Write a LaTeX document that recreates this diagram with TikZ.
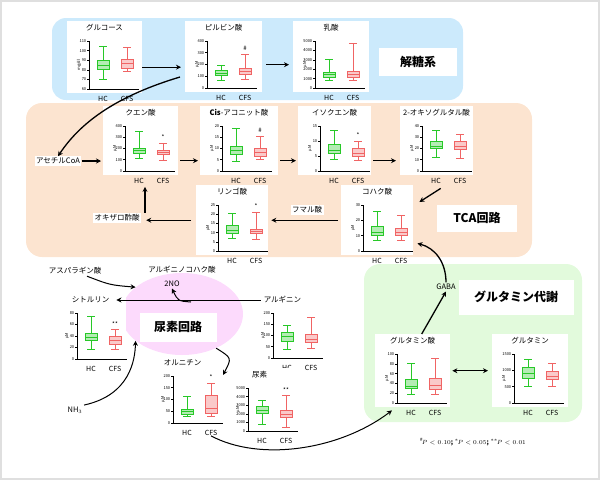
\documentclass[tikz,border=0pt]{standalone}
\usepackage{fontspec}
\setmainfont{Noto Sans CJK JP}
\usetikzlibrary{shapes, arrows.meta, positioning}

\definecolor{hcg}{RGB}{40,200,40}
\definecolor{cfsr}{RGB}{240,100,100}
\definecolor{glyc}{RGB}{204,234,252}
\definecolor{tca}{RGB}{252,228,208}
\definecolor{glnbg}{RGB}{226,250,220}
\definecolor{urbg}{RGB}{252,218,252}

\def\ymn{0}
% panel: x0, y0, x1, y1, ymax, ticks, unit, name, title
\newcommand\panel[9]{%
  \pgfmathsetmacro\pw{#3-#1}\pgfmathsetmacro\ph{#4-#2}
  \node [panel, minimum width=\pw pt, minimum height=\ph pt, anchor=north west] (#8) at (#1,#2) {};
  \node [title] (#8t) at ({(#1+#3)/2},#2+7) {#9};
  \pgfmathsetmacro\ax{#1+22}\pgfmathsetmacro\ab{#4-4}\pgfmathsetmacro\at{#2+20}\def\ym{#5}
  \draw [axis] (\ax,\at) -- (\ax,\ab) -- (\ax+50,\ab);
  \foreach \t in {#6} {\draw [axis] (\ax,{\ab-(\t-\ymn)/(\ym-\ymn)*(\ab-\at)}) -- ++(-2,0) node [tick] {\t};}
  \node [unit] at (#1+12,{(\ab+\at)/2}) {#7};
  \node [grp] (#8hc) at (\ax+14,#4+6) {HC};
  \node [grp] (#8cfs) at (\ax+38,#4+6) {CFS};
}
% box: colour, offset, min, q1, median, q3, max, sign
\newcommand\bx[8]{%
  \pgfmathsetmacro\ya{\ab-(#3-\ymn)/(\ym-\ymn)*(\ab-\at)}
  \pgfmathsetmacro\yb{\ab-(#4-\ymn)/(\ym-\ymn)*(\ab-\at)}
  \pgfmathsetmacro\yc{\ab-(#5-\ymn)/(\ym-\ymn)*(\ab-\at)}
  \pgfmathsetmacro\yd{\ab-(#6-\ymn)/(\ym-\ymn)*(\ab-\at)}
  \pgfmathsetmacro\ye{\ab-(#7-\ymn)/(\ym-\ymn)*(\ab-\at)}
  \draw [#1, fill=#1!35, line width=0.7pt] (\ax+#2-6,\yb) rectangle (\ax+#2+6,\yd);
  \draw [#1, line width=0.7pt] (\ax+#2-6,\yc) -- (\ax+#2+6,\yc)
    (\ax+#2,\ya) -- (\ax+#2,\yb) (\ax+#2,\yd) -- (\ax+#2,\ye)
    (\ax+#2-4,\ya) -- (\ax+#2+4,\ya) (\ax+#2-4,\ye) -- (\ax+#2+4,\ye);
  \node [sig] at (\ax+#2,\ye-6) {#8};
}

\begin{document}
\begin{tikzpicture}
  [x=1pt, y=-1pt,
  % panel
  panel/.style = {rectangle, fill=white, inner sep=0},
  title/.style = {fill=white, inner sep=1pt, font=\fontsize{7.5}{8}\selectfont},
  axis/.style = {line width=0.6pt},
  tick/.style = {anchor=east, inner sep=0.5pt, font=\fontsize{4}{4}\selectfont},
  unit/.style = {rotate=90, font=\fontsize{4}{4}\selectfont},
  grp/.style = {font=\fontsize{7}{7}\selectfont, inner sep=0},
  sig/.style = {font=\fontsize{6}{6}\selectfont, inner sep=0},
  % labels
  txt/.style = {fill=white, inner sep=1.5pt, font=\fontsize{7.5}{8}\selectfont},
  big/.style = {fill=white, font=\bfseries\fontsize{12}{12}\selectfont, inner sep=0},
  % line
  line/.style = {draw, line width=1.3pt, -{Stealth[length=5pt, width=5pt]}},
  ]
  \useasboundingbox (0,0) rectangle (600,480);
  \draw [gray!25, line width=2pt] (1,1) rectangle (599,479);

  % backgrounds
  \fill [glyc, rounded corners=14pt] (52,18) rectangle (463,100);
  \fill [tca, rounded corners=16pt] (26,103) rectangle (532,257);
  \fill [glnbg, rounded corners=16pt] (364,264) rectangle (582,422);
  \node [ellipse, fill=urbg, minimum width=122pt, minimum height=82pt] (ucyc) at (182,314) {};

  % glycolysis
  \def\ymn{60}
  \panel{67}{21}{142}{93}{110}{60,70,...,110}{mg/dl}{gluc}{グルコース}
  \bx{hcg}{14}{70}{80}{85}{90}{104}{}
  \bx{cfsr}{38}{78}{81}{87}{91}{103}{}
  \def\ymn{0}
  \panel{185}{21}{262}{92}{400}{0,100,...,400}{µM}{pyr}{ピルビン酸}
  \bx{hcg}{14}{65}{105}{125}{150}{195}{}
  \bx{cfsr}{38}{75}{115}{140}{165}{290}{\#}
  \panel{293}{21}{369}{92}{5000}{0,1000,...,5000}{µM}{lac}{乳酸}
  \bx{hcg}{14}{800}{1100}{1400}{1650}{3000}{}
  \bx{cfsr}{38}{800}{1150}{1500}{1800}{4700}{}

  % TCA
  \panel{103}{106}{178}{175}{400}{0,100,...,400}{µM}{cit}{クエン酸}
  \bx{hcg}{14}{115}{155}{180}{205}{350}{}
  \bx{cfsr}{38}{95}{145}{165}{185}{245}{*}
  \panel{200}{106}{278}{175}{20}{0,5,...,20}{µM}{cis}{\textbf{\textit{Cis}}-アコニット酸}
  \bx{hcg}{14}{4.5}{7.5}{9}{11}{19}{}
  \bx{cfsr}{38}{5}{6.5}{8.5}{10}{15.5}{\#}
  \panel{298}{106}{371}{175}{15}{0,5,10,15}{µM}{iso}{イソクエン酸}
  \bx{hcg}{14}{4}{6}{7}{9}{13.5}{}
  \bx{cfsr}{38}{3.5}{5}{6}{7.5}{9.8}{*}
  \panel{400}{106}{473}{175}{40}{0,10,...,40}{µM}{oxo}{2-オキソグルタル酸}
  \bx{hcg}{14}{12}{20}{22}{26}{36}{}
  \bx{cfsr}{38}{11}{19}{22}{26}{33}{}
  \panel{196}{185}{268}{255}{25}{0,5,...,25}{µM}{mal}{リンゴ酸}
  \bx{hcg}{14}{7}{9.5}{11}{14}{20.5}{}
  \bx{cfsr}{38}{6.5}{9.5}{10.5}{12}{21}{*}
  \panel{341}{185}{413}{255}{30}{0,10,20,30}{µM}{suc}{コハク酸}
  \bx{hcg}{14}{7}{10}{12}{16}{26}{}
  \bx{cfsr}{38}{7}{10}{12}{15}{23}{}

  % urea cycle
  \panel{55}{293}{126}{363}{80}{0,20,...,80}{µM}{citr}{シトルリン}
  \bx{hcg}{14}{17}{32}{37}{45}{75}{}
  \bx{cfsr}{38}{17}{25}{32}{40}{51}{**}
  \panel{251}{293}{314}{362}{200}{0,50,...,200}{µM}{arg}{アルギニン}
  \bx{hcg}{14}{40}{75}{95}{115}{145}{}
  \bx{cfsr}{38}{45}{68}{85}{105}{180}{}
  \panel{151}{356}{214}{427}{200}{0,50,...,200}{µM}{orn}{オルニチン}
  \bx{hcg}{14}{28}{38}{50}{58}{112}{}
  \bx{cfsr}{38}{28}{42}{62}{118}{170}{*}
  \panel{226}{368}{293}{435}{5000}{0,1000,...,5000}{µM}{urea}{尿素}
  \bx{hcg}{14}{800}{2000}{2400}{2900}{3600}{}
  \bx{cfsr}{38}{400}{1600}{1900}{2400}{4100}{**}

  % glutamine
  \panel{375}{334}{450}{407}{100}{0,20,...,100}{µM}{glu}{グルタミン酸}
  \bx{hcg}{14}{17}{30}{33}{48}{80}{}
  \bx{cfsr}{38}{17}{27}{37}{51}{92}{}
  \panel{492}{334}{568}{407}{1500}{0,500,1000,1500}{µM}{gln}{グルタミン}
  \bx{hcg}{14}{520}{750}{900}{1100}{1330}{}
  \bx{cfsr}{38}{500}{730}{820}{970}{1210}{}

  % nodes
  \node [big, minimum width=78pt, minimum height=28pt] (glylab) at (418,62) {解糖系};
  \node [big, minimum width=80pt, minimum height=27pt] (tcalab) at (477,218) {TCA回路};
  \node [big, minimum width=115pt, minimum height=35pt] (glnlab) at (516,297) {グルタミン代謝};
  \node [big, minimum width=77pt, minimum height=29pt] (urlab) at (178,327) {尿素回路};
  \node [txt] (acoa) at (58,161) {アセチルCoA};
  \node [txt] (fuma) at (307,210) {フマル酸};
  \node [txt] (oxa) at (117,218) {オキザロ酢酸};
  \node [txt, fill=none] (gaba) at (446,287) {GABA};
  \node [txt, fill=none] (asp) at (75,271) {アスパラギン酸};
  \node [txt, fill=none] (argsuc) at (182,270) {アルギニノコハク酸};
  \node [txt, fill=none] (no) at (172,284) {2NO};
  \node [txt, fill=none] (nh) at (75,410) {NH$_3$};
  \node [txt, fill=none, font=\bfseries\fontsize{6.5}{7}\selectfont] (pval) at (473,442)
    {$^{\#}\!P<0.10$; $^{*}\!P<0.05$; $^{**}\!P<0.01$};
  \coordinate (pyrout) at (180,77);
  \coordinate (nob) at (191,302);

  % path
  \path [line] ([yshift=-10pt]gluc.east) -- ([xshift=-4pt, yshift=-10pt]gluc.east -| pyr.west);
  \path [line, shorten <=4pt, shorten >=4pt] ([yshift=-8pt]pyr.east) -- ([yshift=-8pt]pyr.east -| lac.west);
  \path [line] (pyrout) .. controls (120,95) and (82,120) .. (acoa.north);
  \path [line, shorten >=2pt] (acoa) -- (acoa -| cit.west);
  \path [line, shorten <=2pt, shorten >=2pt] ([yshift=-20pt]cit.east) -- ([yshift=-20pt]cit.east -| cis.west);
  \path [line, shorten <=2pt, shorten >=2pt] ([yshift=-20pt]cis.east) -- ([yshift=-20pt]cis.east -| iso.west);
  \path [line, shorten <=2pt, shorten >=4pt] ([yshift=-20pt]iso.east) -- ([yshift=-20pt]iso.east -| oxo.west);
  \path [line] ([xshift=4pt, yshift=-13pt]oxo.south) -- ([xshift=6pt, yshift=-17pt]suc.north east);
  \path [line, shorten <=3pt, shorten >=3pt] (suc.west) -- (suc.west -| mal.east);
  \path [line, shorten <=5pt, shorten >=5pt] (mal.west) -- (mal.west -| oxa.east);
  \path [line] ([xshift=28pt]oxa.north) -- ([xshift=28pt, yshift=-3pt]oxa.north |- cithc.south);
  \path [line] (gaba.north) .. controls (446,262) and (435,248) .. ([shift={(4pt,12pt)}]suc.south east);
  \path [line] ([xshift=9pt]glu.north) -- (gaba.south);
  \path [line, {Stealth[length=5pt, width=5pt]}-{Stealth[length=5pt, width=5pt]}, shorten <=2pt, shorten >=4pt] (glu.east) -- (glu.east -| gln.west);
  \path [line, line width=1pt] ([xshift=12pt]asp.south) .. controls (110,285) .. (ucyc.150);
  \path [line, line width=1pt, shorten <=2pt, shorten >=6pt] (argt.west) -- (argt.west -| citrt.east);
  \path [line, line width=1pt] (nob) .. controls (178,301) .. (no.south);
  \path [line, line width=1pt] (nh.north east) .. controls (130,395) and (135,360) .. (ucyc.210);
  \path [line, line width=1pt] (ucyc.-45) .. controls (232,358) .. ([xshift=-3pt]urea.north west |- ureat.west);
  \path [line, line width=1pt] (ornhc.south -| orncfs.south) .. controls (260,462) and (340,450) .. ([xshift=17pt, yshift=-3pt]glu.south west);

\end{tikzpicture}
\end{document}
